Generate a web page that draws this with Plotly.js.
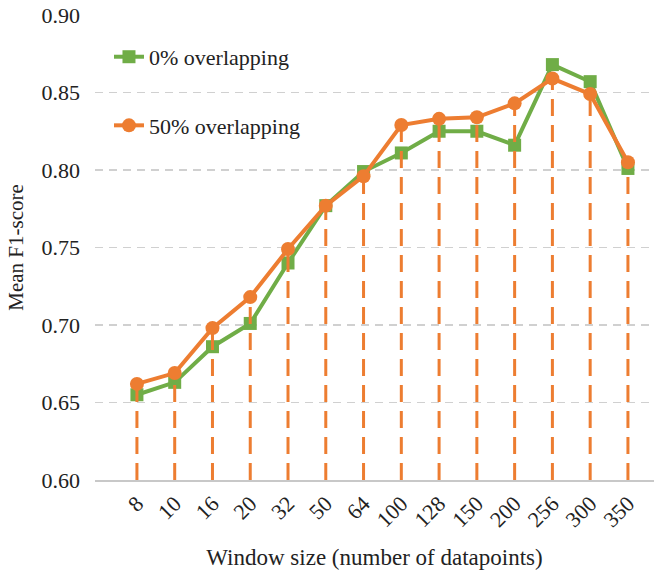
<!DOCTYPE html>
<html><head><meta charset="utf-8">
<script src="https://cdn.plot.ly/plotly-3.0.1.min.js"></script>
<style>body{margin:0;background:#fff}#c{width:654px;height:580px}</style>
</head><body><div id="c"></div>
<script>
const windowSizes = ["8","10","16","20","32","50","64","100","128","150","200","256","300","350"];
const overlap0 = [0.655,0.663,0.686,0.701,0.740,0.777,0.799,0.811,0.825,0.825,0.816,0.868,0.857,0.801];
const overlap50 = [0.662,0.669,0.698,0.718,0.749,0.777,0.796,0.829,0.833,0.834,0.843,0.859,0.849,0.805];
const yTicks = [0.60,0.65,0.70,0.75,0.80,0.85,0.90];

const green = "#70AD47", orange = "#ED7D31";
const FAM = "Liberation Serif";

const dropX = [], dropY = [];
windowSizes.forEach((w,i)=>{ dropX.push(w,w,null); dropY.push(yTicks[0], overlap50[i], null); });

const traces = [
  {x: windowSizes, y: overlap0, name: "0% overlapping", mode: "lines+markers", legendgroup: "a",
   line: {color: green, width: 4}, marker: {symbol: "square", size: 13, color: green}},
  {x: dropX, y: dropY, mode: "lines", showlegend: false, hoverinfo: "skip",
   line: {color: orange, width: 3, dash: "17px,9px"}},
  {x: windowSizes, y: overlap50, name: "50% overlapping", mode: "lines+markers", legendgroup: "b",
   line: {color: orange, width: 4}, marker: {symbol: "circle", size: 14, color: orange}}
];

const layout = {
  width: 654, height: 580,
  margin: {l: 95, r: 0, t: 15, b: 100},
  paper_bgcolor: "#fff", plot_bgcolor: "#fff",
  font: {family: FAM, color: "#222", size: 22},
  showlegend: true,
  legend: {x: 0.025, y: 0.955, xanchor: "left", yanchor: "top", bgcolor: "rgba(0,0,0,0)",
    font: {family: FAM, size: 22, color: "#222"}, traceorder: "grouped", tracegroupgap: 37,
    itemwidth: 30},
  xaxis: {type: "category", range: [-1.11, 13.69], tickangle: -45, showgrid: false,
    showline: true, linecolor: "#c8c8c8", linewidth: 2, zeroline: false, ticks: "",
    tickfont: {family: FAM, size: 22, color: "#222"},
    title: {text: "Window size (number of datapoints)", font: {family: FAM, size: 23, color: "#222"}, standoff: 18}},
  yaxis: {range: [0.60, 0.90], tickvals: yTicks, tickformat: ".2f", showgrid: true,
    gridcolor: "#d0d0d0", griddash: "8px,6px", gridwidth: 1.5, zeroline: false, showline: false,
    ticks: "", ticklabelstandoff: 14, tickfont: {family: FAM, size: 22, color: "#222"},
    title: {text: "Mean F1-score", font: {family: FAM, size: 21, color: "#222"}, standoff: 12}}
};

Plotly.newPlot("c", traces, layout, {displayModeBar: false, staticPlot: true});
</script></body></html>
